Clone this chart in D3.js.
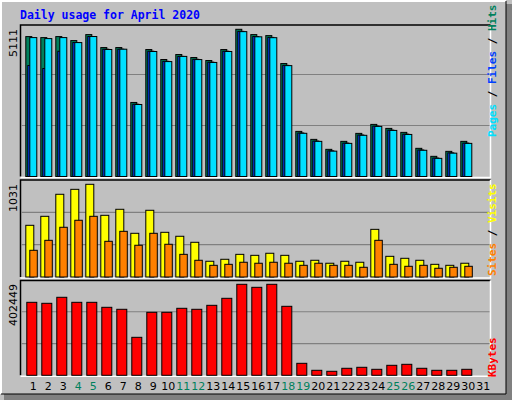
<!DOCTYPE html>
<html><head><meta charset="utf-8">
<script src="https://cdn.jsdelivr.net/npm/d3@7"></script>
<style>body{margin:0;background:#fff}svg{display:block}</style></head>
<body><script>
const days = d3.range(1,32);
const weekend = [4,5,11,12,18,19,25,26];
const hits  = [4858,4823,4858,4719,4927,4477,4477,2571,4408,4062,4235,4131,4027,4408,5111,4927,4892,3922,1566,1289,943,1220,1497,1809,1670,1532,978,700,873,1220];
const files = [3853,3749,4349,4650,4860,4420,4420,2510,4350,4000,4170,4070,3970,4350,5040,4860,4830,3860,1510,1230,890,1160,1440,1750,1610,1470,920,640,820,1160];
const pages = [4823,4788,4823,4650,4860,4410,4420,2500,4340,3990,4170,4060,3960,4340,5030,4850,4820,3850,1500,1220,880,1150,1430,1740,1600,1460,910,630,810,1150];
const visits = [575,675,920,975,1031,686,753,486,742,497,453,386,175,197,252,241,264,241,175,186,153,175,164,530,230,208,186,141,130,153];
const sites  = [297,408,553,631,675,397,508,353,486,364,252,186,130,141,164,153,164,153,130,153,130,130,108,408,141,119,130,97,108,119];
const kbytes = [322800,318400,345000,322800,322800,300700,291900,168000,278600,278600,296300,291900,309500,340500,402449,389100,402449,305100,53000,22100,17700,31000,35400,26500,44200,48600,31000,22100,22100,26500];

const svg = d3.select("body").append("svg").attr("width",512).attr("height",400);
svg.append("rect").attr("width",512).attr("height",400).attr("fill","#c0c0c0");
// shadow / border
svg.append("rect").attr("x",506).attr("y",4).attr("width",6).attr("height",396).attr("fill","#808080");
svg.append("rect").attr("x",4).attr("y",394).attr("width",508).attr("height",6).attr("fill","#808080");
svg.append("path").attr("d","M1,394V1H506").attr("fill","none").attr("stroke","#fff").attr("stroke-width",2);
svg.append("path").attr("d","M1,394H506V1").attr("fill","none").attr("stroke","#000").attr("stroke-width",1);

svg.append("text").attr("x",20).attr("y",19).text("Daily usage for April 2020")
  .attr("font-family","DejaVu Sans Mono").attr("font-weight","bold").attr("font-size",11.5).attr("fill","#0000ff");

const x = d3.scaleLinear().domain([1,32]).range([25.3,490.3]);
const L=20.5,R=490.5;

function panel(top,bottom,gridTop,maxY){
  svg.append("path").attr("d",`M${L},${bottom}V${top}H${R}`).attr("fill","none").attr("stroke","#000").attr("stroke-width",1.5);
  svg.append("path").attr("d",`M${L},${bottom+1}H${R}V${top}`).attr("fill","none").attr("stroke","#fff").attr("stroke-width",1.5);
  const g=(bottom-gridTop)/3;
  [1,2].forEach(i=>svg.append("line").attr("x1",L+1).attr("x2",R-1).attr("y1",bottom-g*i).attr("y2",bottom-g*i).attr("stroke","#808080").attr("stroke-width",1.2));
}
function bars(data,y,dx,w,color){
  svg.append("g").selectAll("rect").data(data).join("rect")
   .attr("x",(d,i)=>x(i+1)+dx+0.5).attr("y",d=>y(d)).attr("width",w).attr("height",d=>y(0)-y(d))
   .attr("fill",color).attr("stroke","#000").attr("stroke-width",1);
}
function ylabel(text,cy){
  svg.append("text").attr("transform",`translate(17,${cy}) rotate(-90)`).attr("text-anchor","end")
   .attr("font-family","DejaVu Sans").attr("font-size",11).attr("fill","#000").text(text);
}
function legend(parts,yEnd){
  const t=svg.append("text").attr("transform",`translate(496,${yEnd}) rotate(-90)`)
   .attr("font-family","DejaVu Sans Mono").attr("font-size",11).attr("font-weight","bold");
  parts.forEach((p,i)=>{ if(i) t.append("tspan").attr("fill","#000").text(" / "); t.append("tspan").attr("fill",p[1]).text(p[0]); });
}

// top
panel(25,176.5,23.5);
const y1=d3.scaleLinear().domain([0,5111]).range([176.5,29.3]);
bars(hits,y1,0,6,"#00805c");
bars(files,y1,2,6,"#0040ff");
bars(pages,y1,4,7,"#00e0ff");
ylabel("5111",29);
legend([["Pages","#00e0ff"],["Files","#0040ff"],["Hits","#00805c"]],137);

// middle
panel(180,277,180);
const y2=d3.scaleLinear().domain([0,1031]).range([277,184.3]);
bars(visits,y2,0,8,"#ffff00");
bars(sites,y2,4,7.5,"#ff8000");
ylabel("1031",184);
legend([["Sites","#ff8000"],["Visits","#ffff00"]],276);

// bottom
panel(280.5,375.3,280);
const y3=d3.scaleLinear().domain([0,402449]).range([375.3,284.3]);
bars(kbytes,y3,1,10,"#ff0000");
ylabel("402449",284);
legend([["KBytes","#ff0000"]],377);

svg.append("g").selectAll("text").data(days).join("text")
  .attr("x",d=>x(d)+8).attr("y",390).attr("text-anchor","middle")
  .attr("font-family","DejaVu Sans").attr("font-size",11)
  .attr("fill",d=>weekend.includes(d)?"#00805c":"#000").text(d=>d);
</script></body></html>
